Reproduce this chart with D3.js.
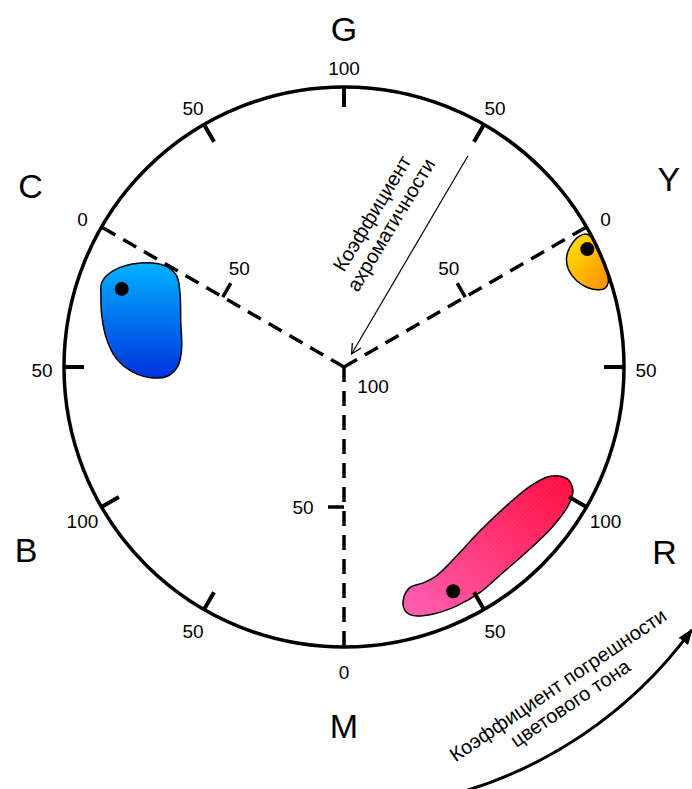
<!DOCTYPE html>
<html><head><meta charset="utf-8">
<script src="https://cdn.jsdelivr.net/npm/d3@7"></script>
<style>
body{margin:0;background:#fff}
svg{display:block}
text{font-family:"Liberation Sans",Arial,sans-serif;fill:#000}
</style>
</head><body>
<svg id="chart" width="692" height="789"></svg>
<script>
// ---------------- DATA ----------------
const hueAngles = [0, 30, 60, 90, 120, 150, 180, 210, 240, 270, 300, 330];
const hueTickLabels = ["50", "0", "50", "100", "50", "0", "50", "100", "50", "0", "50", "100"];
const hueLetters = ["Y", "G", "C", "B", "M", "R"];
const hueLetterAngles = [30, 90, 150, 210, 270, 330];
const axisAngles = [150, 30, 270];          // C, Y, M achromatic axes
const achromTicks = [50, 100];
const achromTitle = ["Коэффициент", "ахроматичности"];
const hueTitle = ["Коэффициент погрешности", "цветового тона"];

// region outlines in unit-circle coordinates (x, y)
const blueRegion = [[-0.865,0.302],[-0.825,0.343],[-0.729,0.371],[-0.639,0.361],[-0.598,0.326],[-0.586,0.268],[-0.583,0.161],[-0.580,0.064],[-0.593,0.004],[-0.629,-0.032],[-0.682,-0.039],[-0.754,-0.018],[-0.812,0.029],[-0.848,0.100],[-0.865,0.183],[-0.868,0.255]];
const yellowRegion = [[0.861,0.475],[0.879,0.469],[0.896,0.446],[0.920,0.398],[0.938,0.345],[0.944,0.303],[0.932,0.281],[0.903,0.276],[0.867,0.285],[0.831,0.308],[0.801,0.350],[0.795,0.392],[0.807,0.428],[0.831,0.460]];
const pinkRegion = [[0.212,-0.829],[0.236,-0.787],[0.283,-0.771],[0.331,-0.745],[0.403,-0.674],[0.486,-0.585],[0.581,-0.495],[0.664,-0.426],[0.736,-0.390],[0.795,-0.398],[0.817,-0.436],[0.807,-0.483],[0.748,-0.567],[0.664,-0.650],[0.569,-0.733],[0.486,-0.805],[0.403,-0.853],[0.319,-0.882],[0.248,-0.888],[0.218,-0.870]];
const samplePoints = [[-0.794,0.279],[0.869,0.421],[0.390,-0.801]];

// ---------------- LAYOUT ----------------
const W = 692, H = 789;
const cx = 344, cy = 367, R = 280;
const letterRadius = [375, 338, 362, 367, 359, 370];
const tickLen = 20, tickLabelR = 302;
const radialTickDir = [60, 120, 180];
const radialLabelDist = [33, 33, 41];

const svg = d3.select("#chart");
const x = d3.scaleLinear().domain([-1, 1]).range([cx - R, cx + R]);
const y = d3.scaleLinear().domain([-1, 1]).range([cy + R, cy - R]);
const rA = d3.scaleLinear().domain([0, 100]).range([R, 0]); // achromaticity -> radius
const rad = d => d * Math.PI / 180;
const polar = (deg, r) => [cx + r * Math.cos(rad(deg)), cy - r * Math.sin(rad(deg))];

// defs
const defs = svg.append("defs");
function lg(id, x1, y1, x2, y2, c1, c2) {
  const g = defs.append("linearGradient").attr("id", id)
    .attr("x1", x1).attr("y1", y1).attr("x2", x2).attr("y2", y2);
  g.append("stop").attr("offset", "0%").attr("stop-color", c1);
  g.append("stop").attr("offset", "100%").attr("stop-color", c2);
}
lg("gBlue", "0", "0", "0", "1", "#00b2ff", "#0033dc");
lg("gYellow", "0", "0", "1", "1", "#ffe600", "#ff8a00");
lg("gPink", "0", "1", "1", "0", "#ff5eb4", "#ff0a3a");
const pat = defs.append("pattern").attr("id", "hatch").attr("patternUnits", "userSpaceOnUse")
  .attr("width", 3).attr("height", 3).attr("patternTransform", "rotate(45)");
pat.append("line").attr("x1", 0).attr("y1", 0).attr("x2", 0).attr("y2", 3)
  .attr("stroke", "#fff").attr("stroke-width", 0.8).attr("stroke-opacity", 0.15);

defs.append("marker").attr("id", "openArrow").attr("viewBox", "0 0 12 12")
  .attr("refX", 11).attr("refY", 6).attr("markerWidth", 12).attr("markerHeight", 12)
  .attr("markerUnits", "userSpaceOnUse").attr("orient", "auto")
  .append("path").attr("d", "M1,1 L11,6 L1,11").attr("fill", "none").attr("stroke", "#000").attr("stroke-width", 1.3);
defs.append("marker").attr("id", "solidArrow").attr("viewBox", "0 0 16 12")
  .attr("refX", 14).attr("refY", 6).attr("markerWidth", 16).attr("markerHeight", 12)
  .attr("markerUnits", "userSpaceOnUse").attr("orient", "auto")
  .append("path").attr("d", "M0,0 L16,6 L0,12 Z").attr("fill", "#000");

// regions
const line = d3.line().x(d => x(d[0])).y(d => y(d[1])).curve(d3.curveCatmullRomClosed.alpha(0.5));
const regions = [[blueRegion, "gBlue", false], [yellowRegion, "gYellow", true], [pinkRegion, "gPink", true]];
regions.forEach(([pts, grad, hatch]) => {
  svg.append("path").attr("d", line(pts)).attr("fill", `url(#${grad})`);
  if (hatch) svg.append("path").attr("d", line(pts)).attr("fill", "url(#hatch)");
  svg.append("path").attr("d", line(pts)).attr("fill", "none").attr("stroke", "#000").attr("stroke-width", 1.5);
});

// outer circle
svg.append("circle").attr("cx", cx).attr("cy", cy).attr("r", R)
  .attr("fill", "none").attr("stroke", "#000").attr("stroke-width", 3.5);

// hue ticks
hueAngles.forEach((a, i) => {
  if (!axisAngles.includes(a)) {
    const p0 = polar(a, R), p1 = polar(a, R - tickLen);
    svg.append("line").attr("x1", p0[0]).attr("y1", p0[1]).attr("x2", p1[0]).attr("y2", p1[1])
      .attr("stroke", "#000").attr("stroke-width", 4);
  }
  const lp = polar(a, tickLabelR);
  svg.append("text").attr("x", lp[0]).attr("y", lp[1] + 3).attr("dy", "0.35em")
    .attr("text-anchor", "middle").attr("font-size", 19).text(hueTickLabels[i]);
});

// hue letters
hueLetters.forEach((L, i) => {
  const p = polar(hueLetterAngles[i], letterRadius[i]);
  svg.append("text").attr("x", p[0]).attr("y", p[1]).attr("dy", "0.35em")
    .attr("text-anchor", "middle").attr("font-size", 34).text(L);
});

// achromatic axes
axisAngles.forEach((a, i) => {
  const p0 = polar(a, rA(100)), p1 = polar(a, rA(0));
  svg.append("line").attr("x1", p0[0]).attr("y1", p0[1]).attr("x2", p1[0]).attr("y2", p1[1])
    .attr("stroke", "#000").attr("stroke-width", 3.5).attr("stroke-dasharray", "15,9");
  const m = polar(a, rA(achromTicks[0]));
  const d = radialTickDir[i];
  const t = [m[0] + 16 * Math.cos(rad(d)), m[1] - 16 * Math.sin(rad(d))];
  svg.append("line").attr("x1", m[0]).attr("y1", m[1]).attr("x2", t[0]).attr("y2", t[1])
    .attr("stroke", "#000").attr("stroke-width", 3.5);
  const l = [m[0] + radialLabelDist[i] * Math.cos(rad(d)), m[1] - radialLabelDist[i] * Math.sin(rad(d))];
  svg.append("text").attr("x", l[0]).attr("y", l[1]).attr("dy", "0.35em")
    .attr("text-anchor", "middle").attr("font-size", 19).text(String(achromTicks[0]));
});
const c100 = polar(270, rA(achromTicks[1]));
svg.append("text").attr("x", c100[0] + 29).attr("y", c100[1] + 19).attr("dy", "0.35em")
  .attr("text-anchor", "middle").attr("font-size", 19).text(String(achromTicks[1]));

// sample points
svg.selectAll("circle.pt").data(samplePoints).join("circle").attr("class", "pt")
  .attr("cx", d => x(d[0])).attr("cy", d => y(d[1])).attr("r", 7).attr("fill", "#000");

// achromaticity arrow (radial, toward centre)
const arrowAngle = 59.6;
const a0 = polar(arrowAngle, 245), a1 = polar(arrowAngle, 15);
svg.append("line").attr("x1", a0[0]).attr("y1", a0[1]).attr("x2", a1[0]).attr("y2", a1[1])
  .attr("stroke", "#000").attr("stroke-width", 1.2).attr("marker-end", "url(#openArrow)");
const tg = svg.append("g").attr("transform", "translate(381.5,219) rotate(-58.7)");
achromTitle.forEach((s, i) => {
  tg.append("text").attr("x", 0).attr("y", (i - 0.5) * 22).attr("dy", "0.35em")
    .attr("text-anchor", "middle").attr("font-size", 20).text(s);
});

// hue arrow
const hcx = 337.3, hcy = 370.9, hr = 439;
const hp = d3.path();
const s0 = rad(76), s1 = rad(36.2);
hp.moveTo(hcx + hr * Math.cos(s0), hcy + hr * Math.sin(s0));
hp.arc(hcx, hcy, hr, s0, s1, true);
svg.append("path").attr("d", hp.toString()).attr("fill", "none").attr("stroke", "#000")
  .attr("stroke-width", 3).attr("marker-end", "url(#solidArrow)");
const hg = svg.append("g").attr("transform", "translate(564,694) rotate(-34)");
hueTitle.forEach((s, i) => {
  hg.append("text").attr("x", 0).attr("y", (i - 0.5) * 22).attr("dy", "0.35em")
    .attr("text-anchor", "middle").attr("font-size", 20).text(s);
});
</script>
</body></html>
